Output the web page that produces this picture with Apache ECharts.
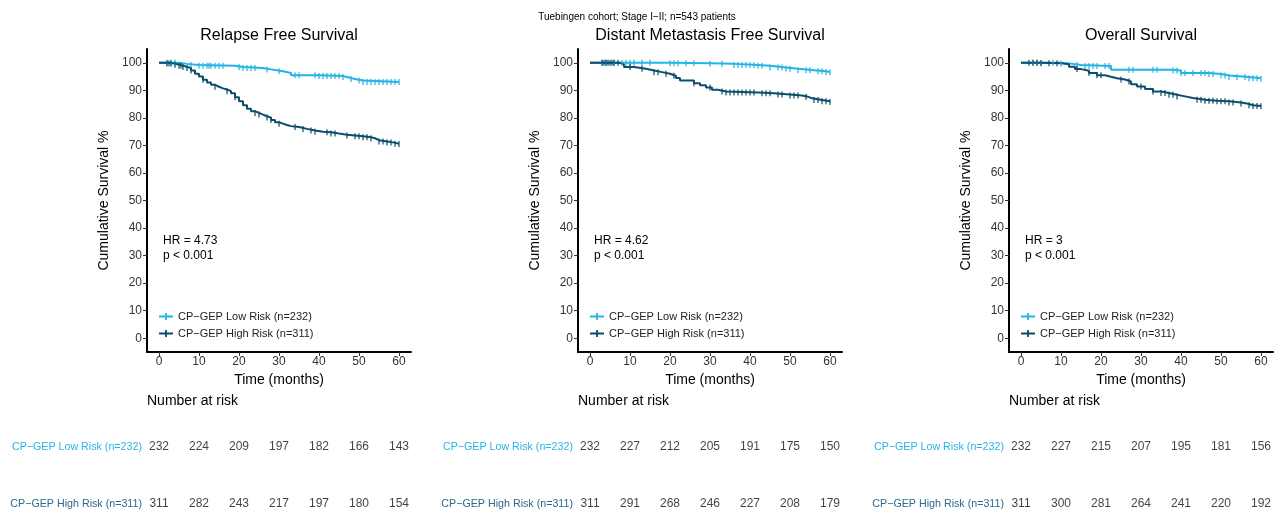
<!DOCTYPE html>
<html><head><meta charset="utf-8">
<script src="https://cdn.jsdelivr.net/npm/echarts@6/dist/echarts.min.js"></script>
<style>html,body{margin:0;padding:0;background:#fff}#c{width:1274px;height:511px}</style>
</head><body><div id="c"></div>
<script>
const superTitle = 'Tuebingen cohort; Stage I\u2212II; n=543 patients';
const panelTitles = ['Relapse Free Survival', 'Distant Metastasis Free Survival', 'Overall Survival'];
const groupNames = ['CP\u2212GEP Low Risk (n=232)', 'CP\u2212GEP High Risk (n=311)'];
const hrTexts = ['HR = 4.73', 'HR = 4.62', 'HR = 3'];
const pTexts = ['p < 0.001', 'p < 0.001', 'p < 0.001'];
const timeTicks = [0, 10, 20, 30, 40, 50, 60];
const survTicks = [0, 10, 20, 30, 40, 50, 60, 70, 80, 90, 100];
const xTitle = 'Time (months)';
const yTitle = 'Cumulative Survival %';
const riskTitle = 'Number at risk';

// Kaplan-Meier step curves [time, survival %]
const rfsLow = [[0,100],[5,99.6],[7,99.2],[10,98.9],[19,98.5],[21,98.1],[26,97.6],[28,96.9],[31,96.3],[33,95.5],[40,95.2],[46,94.8],[47,94.1],[49,93.6],[51,93.0],[60,93.0]];
const rfsHigh = [[0,100],[2,99.7],[4,99.3],[5,98.9],[6,98.5],[7,98.1],[8,97.2],[9,96],[10,95],[11,93.8],[12,92.8],[13,92],[14,91.3],[15,90.7],[16,90.3],[17,89.7],[18,88.9],[19,87.5],[20,86],[21,84.6],[22,83.3],[23,82.4],[24,81.8],[25,81.2],[26,80.6],[27,80.1],[28,79.2],[29,78.4],[30,77.9],[31,77.4],[32,77],[33,76.7],[35,76],[37,75.4],[39,75],[41,74.8],[43,74.3],[45,73.9],[47,73.6],[49,73.3],[51,73],[53,72.6],[54,71.9],[55,71.4],[57,71.1],[58.5,70.6],[60,70.5]];
const dmfsLow = [[0,100],[20,99.8],[30,99.6],[36,99.2],[42,98.9],[45,98.3],[49,97.8],[52,97.3],[56,96.9],[59,96.6],[60,96.6]];
const dmfsHigh = [[0,100],[7.5,99.3],[8.5,98.5],[11,97.8],[14,97.2],[16,96.6],[18,96],[20,95.3],[21.5,94.5],[22.5,93.6],[26,92.6],[27.5,91.8],[29,91],[30.5,90.2],[32,89.6],[34,89.2],[42,88.9],[46,88.5],[50,88.1],[53,87.7],[54.5,87.1],[55.5,86.5],[58,86],[60,85.8]];
const osLow = [[0,100],[10,99.6],[13,99.2],[15,98.8],[22.5,97.5],[38,97.2],[40,96.3],[47,95.9],[50,95.4],[52,94.8],[57,94.4],[60,94.2]];
const osHigh = [[0,100],[5,99.8],[10,99.5],[12,98.6],[13.5,97.7],[15,97.1],[17,96.3],[19,95.5],[21,94.9],[22.5,94.4],[24,93.9],[26,93.2],[27.5,92.2],[29,91.4],[31,90.5],[33,89.6],[35,89],[37,88.4],[39,87.8],[41,87.2],[43,86.6],[46,86.2],[49,86],[52,85.6],[55,85.2],[56.5,84.6],[58,84.3],[60,84.2]];

// censoring times (months)
const rfsLowCensor = [2,3,4,8,10,11,12,12.5,13,14,15,16,20,21,22,23,24,27,30,34,35,39,40,41,42,43,44,45,46,48,50,51,52,53,54,55,56,57,58,59,60];
const rfsHighCensor = [2,2.5,3,4,5,5.5,6,7,8,11,14,17,19,24,25,27,28,30,34,36,38,39,42,43,44,47,49,50,51,52,53,55,56,57,58,59,60];
const dmfsLowCensor = [3,4,6,8,9,10,11,13,15,20,21,22,24,26,30,33,36,37,38,39,40,41,42,43,45,47,48,49,50,52,54,55,57,58,59,60];
const dmfsHighCensor = [3,3.5,4,4.5,5,5.5,6,7,10,13,16,17,19,21,26,30,33,34,35,36,37,38,39,40,41,43,44,45,47,48,50,51,52,54,56,57,58,59,60];
const osLowCensor = [3,4,5,8,10,14,16,17,18,19,21,22,27,28,33,34,38,39,40,41,43,45,46,47,48,50,51,52,54,56,57,58,59,60];
const osHighCensor = [2,3,4,5,7,9,14,17,19,20,25,27,30,33,35,36,37,38,39,44,45,46,47,48,49,50,51,52,53,55,57,58,59,60];

// number at risk
const riskTimes = [0, 10, 20, 30, 40, 50, 60];
const rfsRiskLow = [232,224,209,197,182,166,143];
const rfsRiskHigh = [311,282,243,217,197,180,154];
const dmfsRiskLow = [232,227,212,205,191,175,150];
const dmfsRiskHigh = [311,291,268,246,227,208,179];
const osRiskLow = [232,227,215,207,195,181,156];
const osRiskHigh = [311,300,281,264,241,220,192];

const colLow = '#23B4E6';
const colHigh = '#0D4C6B';
const panels = [
  {low: rfsLow, high: rfsHigh, lowC: rfsLowCensor, highC: rfsHighCensor, rLow: rfsRiskLow, rHigh: rfsRiskHigh},
  {low: dmfsLow, high: dmfsHigh, lowC: dmfsLowCensor, highC: dmfsHighCensor, rLow: dmfsRiskLow, rHigh: dmfsRiskHigh},
  {low: osLow, high: osHigh, lowC: osLowCensor, highC: osHighCensor, rLow: osRiskLow, rHigh: osRiskHigh}
];

function stepAt(curve, t) {
  let v = curve[0][1];
  for (const p of curve) { if (p[0] <= t) v = p[1]; else break; }
  return v;
}

const FONT = 'Liberation Sans, Arial, sans-serif';
const lefts = [147, 578, 1009];
const W = 264, TOP = 49, H = 303;
const grids = [], xAxes = [], yAxes = [], series = [], legends = [], graphics = [];
const rGrids = [], rxAxes = [], ryAxes = [];
const plusIcon = 'path://M0,4.1 H14 V5.9 H0 Z M6.1,1.5 H7.9 V8.5 H6.1 Z';

panels.forEach((p, i) => {
  const L = lefts[i];
  grids.push({left: L, top: TOP, width: W, height: H});
  xAxes.push({
    type: 'value', gridIndex: i, min: -3, max: 63,
    axisLine: {show: true, onZero: false, lineStyle: {color: '#000', width: 2}},
    axisTick: {show: true, customValues: timeTicks, length: 4, lineStyle: {color: '#333', width: 1}},
    axisLabel: {customValues: timeTicks, fontSize: 12, color: '#333', margin: 4, fontFamily: FONT},
    splitLine: {show: false},
    name: xTitle, nameLocation: 'middle', nameGap: 19,
    nameTextStyle: {fontSize: 14, color: '#000', fontFamily: FONT}
  });
  yAxes.push({
    type: 'value', gridIndex: i, min: -5, max: 105,
    axisLine: {show: true, onZero: false, lineStyle: {color: '#000', width: 2}},
    axisTick: {show: true, customValues: survTicks, length: 4, lineStyle: {color: '#333', width: 1}},
    axisLabel: {customValues: survTicks, fontSize: 12, color: '#333', margin: 5, fontFamily: FONT},
    splitLine: {show: false},
    name: yTitle, nameLocation: 'middle', nameGap: 36, nameRotate: 90,
    nameTextStyle: {fontSize: 14, color: '#000', fontFamily: FONT}
  });
  const curves = [[p.low, p.lowC, colLow], [p.high, p.highC, colHigh]];
  curves.forEach((c, k) => {
    series.push({
      type: 'line', name: groupNames[k], xAxisIndex: i, yAxisIndex: i,
      data: c[0], step: 'end', showSymbol: false, symbol: 'none',
      lineStyle: {color: c[2], width: 2}, itemStyle: {color: c[2]}, silent: true, z: 3
    });
    series.push({
      type: 'scatter', name: groupNames[k], xAxisIndex: i, yAxisIndex: i,
      data: c[1].map(t => [t, stepAt(c[0], t)]),
      symbol: 'rect', symbolSize: [1.5, 6], itemStyle: {color: c[2]}, silent: true, z: 4
    });
  });
  legends.push({
    orient: 'vertical', left: L + 7, top: 306, itemGap: 6, itemWidth: 14, itemHeight: 10,
    data: groupNames.map((n, k) => ({name: n, icon: plusIcon, itemStyle: {color: k ? colHigh : colLow}})),
    textStyle: {fontSize: 11, color: '#222', fontFamily: FONT},
    selectedMode: false
  });
  // risk table grid
  const gi = i + 3;
  rGrids.push({left: L, top: 447, width: W, height: 57});
  rxAxes.push({type: 'value', gridIndex: gi, min: -3, max: 63, show: false});
  ryAxes.push({
    type: 'category', gridIndex: gi, data: [groupNames[1], groupNames[0]], boundaryGap: false,
    axisLine: {show: false}, axisTick: {show: false}, splitLine: {show: false},
    axisLabel: {fontSize: 10.7, margin: 5, fontFamily: FONT,
      color: (v, idx) => (idx === 0 ? '#2A6A8A' : '#2AB4E6')}
  });
  [[p.rLow, groupNames[0]], [p.rHigh, groupNames[1]]].forEach(r => {
    series.push({
      type: 'scatter', xAxisIndex: gi, yAxisIndex: gi, silent: true,
      data: riskTimes.map((t, j) => [t, r[1], r[0][j]]),
      symbol: 'circle', symbolSize: 1, itemStyle: {color: 'rgba(0,0,0,0)'},
      label: {show: true, position: 'inside', formatter: d => d.value[2], fontSize: 12, color: '#111', fontFamily: FONT}
    });
  });
  graphics.push({type: 'text', x: L + W / 2, y: 36, style: {text: panelTitles[i], font: '16px ' + FONT, fill: '#000', textAlign: 'center', textVerticalAlign: 'middle'}});
  graphics.push({type: 'text', x: L + 16, y: 241, style: {text: hrTexts[i], font: '12px ' + FONT, fill: '#000', textAlign: 'left', textVerticalAlign: 'middle'}});
  graphics.push({type: 'text', x: L + 16, y: 256, style: {text: pTexts[i], font: '12px ' + FONT, fill: '#000', textAlign: 'left', textVerticalAlign: 'middle'}});
  graphics.push({type: 'text', x: L, y: 401, style: {text: riskTitle, font: '14px ' + FONT, fill: '#000', textAlign: 'left', textVerticalAlign: 'middle'}});
});
graphics.push({type: 'text', x: 637, y: 17, style: {text: superTitle, font: '10px ' + FONT, fill: '#000', textAlign: 'center', textVerticalAlign: 'middle'}});

const chart = echarts.init(document.getElementById('c'), null, {renderer: 'canvas'});
chart.setOption({
  backgroundColor: '#fff', animation: false,
  grid: grids.concat(rGrids), xAxis: xAxes.concat(rxAxes), yAxis: yAxes.concat(ryAxes),
  series: series, legend: legends, graphic: graphics
});
</script>
</body></html>
